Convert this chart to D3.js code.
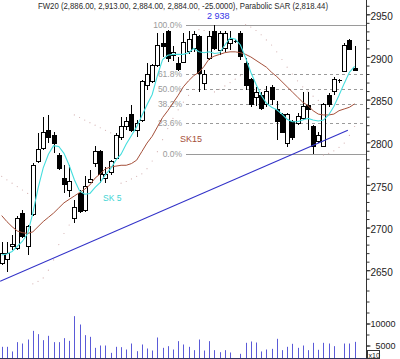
<!DOCTYPE html>
<html><head><meta charset="utf-8">
<script src="https://cdn.jsdelivr.net/npm/d3@7"></script>
<style>body{margin:0;background:#fff}svg{display:block}text{font-family:"Liberation Sans",Arial,sans-serif}</style>
</head><body><svg id="c" width="400" height="359"></svg>
<script>
// ---- data ----
const opens  = [2658,2662,2678,2676,2717,2678,2715,2777,2793,2814,2808,2785,2758,2744,2711,2740,2720,2753,2775,2789,2758,2764,2781,2806,2818,2832,2814,2826,2867,2871,2890,2916,2930,2902,2892,2894,2906,2910,2924,2869,2898,2930,2908,2910,2916,2918,2928,2892,2873,2852,2855,2844,2864,2838,2832,2799,2824,2822,2828,2843,2818,2801,2795,2855,2859,2872,2883,2919,2886];
const highs  = [2683,2683,2691,2713,2720,2703,2776,2811,2830,2832,2812,2787,2773,2773,2732,2744,2760,2767,2796,2791,2771,2779,2811,2830,2830,2844,2826,2873,2893,2892,2928,2928,2932,2913,2900,2928,2931,2931,2926,2885,2930,2938,2931,2930,2931,2920,2930,2899,2875,2865,2859,2866,2867,2848,2834,2834,2826,2834,2859,2859,2820,2812,2846,2858,2877,2874,2916,2921,2913];
const lows   = [2656,2648,2674,2674,2688,2668,2713,2776,2791,2799,2787,2767,2740,2736,2705,2717,2718,2752,2771,2752,2752,2762,2779,2803,2814,2812,2806,2824,2861,2869,2888,2900,2894,2895,2883,2893,2904,2906,2859,2861,2896,2908,2902,2906,2908,2916,2896,2861,2841,2842,2838,2841,2844,2803,2811,2795,2803,2820,2826,2814,2786,2799,2794,2841,2855,2870,2883,2908,2884];
const closes = [2670,2670,2680,2711,2689,2701,2773,2792,2812,2805,2799,2769,2750,2754,2723,2719,2748,2756,2789,2762,2762,2777,2808,2818,2824,2814,2822,2871,2879,2890,2914,2912,2898,2905,2885,2917,2920,2926,2881,2879,2924,2910,2928,2928,2921,2918,2900,2867,2844,2858,2840,2859,2850,2824,2812,2832,2805,2830,2842,2838,2795,2808,2844,2844,2873,2872,2914,2909,2884];
const volumes= [4700,4700,3640,5760,5450,6360,8330,7580,6210,7200,5760,5760,6670,6060,11670,9770,7350,6970,4470,5000,5000,3330,4700,4620,4090,5450,3710,5230,4320,3860,6820,4470,4850,4090,5990,5230,4700,3940,6360,3860,5990,3940,3480,3940,3410,2000,3110,5610,5910,5680,3640,4090,4240,6520,3940,4700,5380,4470,5000,3940,5610,4020,5610,5450,4850,2000,5450,5450,5830];
const sk5    = [2668,2669,2672,2678,2684,2693,2717,2746,2770,2786,2796,2795,2787,2773,2756,2743,2739,2740,2747,2753,2762,2769,2779,2786,2798,2808,2818,2831,2844,2856,2878,2897,2902,2903,2903,2903,2905,2910,2906,2905,2906,2904,2905,2914,2922,2921,2914,2899,2882,2868,2855,2846,2841,2838,2833,2827,2824,2824,2826,2828,2826,2825,2826,2832,2842,2855,2869,2882,2889];
const sk15   = [2714,2707,2701,2696,2694,2693,2695,2701,2707,2712,2717,2723,2729,2733,2737,2741,2745,2750,2758,2763,2769,2771,2772,2773,2773,2775,2779,2789,2799,2807,2818,2829,2837,2846,2855,2865,2872,2878,2882,2889,2898,2901,2903,2905,2906,2906,2905,2903,2900,2896,2892,2888,2882,2877,2871,2865,2859,2853,2847,2843,2837,2833,2832,2832,2833,2837,2839,2841,2845];
const sar    = [2760,2756,2752,2748,2744,2740,2634,2637,2641,2650,2662,2680,2693,2703,2832,2829,2826,2823,2820,2817,2814,2811,2808,2752,2754,2757,2760,2763,2769,2778,2789,2803,2816,2828,2838,2847,2855,2862,2932,2931,2930,2859,2862,2866,2870,2874,2878,2938,2935,2931,2926,2920,2914,2906,2897,2888,2880,2872,2865,2860,2854,2849,2785,2787,2790,2794,2799,2808,2818.44];
const priceTicks = [2650,2700,2750,2800,2850,2900,2950];
const volumeTicks = [5000,10000];
const fibLevels = [0,0.236,0.382,0.5,0.618,1];
const fibLabels = ["0.0%","23.6%","38.2%","50.0%","61.8%","100.0%"];
const fibHigh = 2938, fibLow = 2786.4;
const trendIdx = [-0.3,66.7], trendPrice = [2637,2814];
const titleText = "FW20 (2,886.00, 2,913.00, 2,884.00, 2,884.00, -25.0000), Parabolic SAR (2,818.44)";
const peakLabel = "2 938";

// ---- drawing ----
const svg = d3.select("#c");
const n = closes.length;
const x = d3.scaleLinear().domain([0, n-1]).range([1.7, 354.6]);
const y = d3.scaleLinear().domain([2650, 2950]).range([270.2, 14.3]);
const yv = d3.scaleLinear().domain([0, 10000]).range([367.5, 323.5]);
const axisX = 366;
const px = i => Math.round(x(i)) + 0.5;

// title
svg.append("text").attr("x",38).attr("y",9).attr("font-size",8.5).attr("fill","#2a2a2a")
  .attr("textLength",290).attr("lengthAdjust","spacingAndGlyphs").text(titleText);

// fibonacci levels
const fib = svg.append("g");
fibLevels.forEach((lv,k)=>{
  const p = fibLow + (fibHigh-fibLow)*lv;
  const yy = Math.round(y(p))+0.5;
  fib.append("line").attr("x1",186).attr("x2",axisX).attr("y1",yy).attr("y2",yy)
    .attr("stroke","#9a9a9a").attr("stroke-width",1)
    .attr("stroke-dasharray",(lv===0||lv===1)?null:"3,3");
  fib.append("text").attr("x",182).attr("y",yy).attr("dy","0.35em").attr("text-anchor","end")
    .attr("font-size",8.5).attr("fill","#9a9a9a").text(fibLabels[k]);
});
svg.append("text").attr("x",207).attr("y",19).attr("font-size",9).attr("fill","#3535e8").text(peakLabel);

// volume bars
svg.append("clipPath").attr("id","vc").append("rect").attr("x",0).attr("y",280).attr("width",axisX).attr("height",78);
svg.append("g").attr("clip-path","url(#vc)").selectAll("line").data(volumes).join("line")
  .attr("x1",(d,i)=>px(i)).attr("x2",(d,i)=>px(i))
  .attr("y1",yv(0)).attr("y2",d=>yv(d))
  .attr("stroke","#5a5ad8").attr("stroke-width",1);
svg.append("line").attr("x1",0).attr("x2",axisX).attr("y1",358.5).attr("y2",358.5).attr("stroke","#33335a");

// parabolic SAR dots
svg.append("g").selectAll("circle").data(sar).join("circle")
  .attr("cx",(d,i)=>x(i)).attr("cy",d=>y(d)).attr("r",0.6).attr("fill","#d4b2b2");

// candles
const cg = svg.append("g").attr("shape-rendering","crispEdges");
d3.range(n).forEach(i=>{
  const cx = px(i);
  cg.append("line").attr("x1",cx).attr("x2",cx).attr("y1",y(highs[i])).attr("y2",y(lows[i]))
    .attr("stroke","#000");
  const top = y(Math.max(opens[i],closes[i])), bot = y(Math.min(opens[i],closes[i]));
  if (Math.abs(bot-top) < 1) {
    cg.append("line").attr("x1",cx-2).attr("x2",cx+2).attr("y1",top).attr("y2",top).attr("stroke","#000");
  } else {
    cg.append("rect").attr("x",cx-2).attr("y",top).attr("width",4).attr("height",bot-top)
      .attr("fill", closes[i]>=opens[i] ? "#fff" : "#000").attr("stroke","#000");
  }
});

// moving averages
const line = d3.line().x((d,i)=>x(i)).y(d=>y(d));
svg.append("path").datum(sk15).attr("d",line).attr("fill","none").attr("stroke","#a5503a").attr("stroke-width",1);
svg.append("path").datum(sk5).attr("d",line).attr("fill","none").attr("stroke","#45dede").attr("stroke-width",1.1);

// trend line
svg.append("line").attr("x1",x(trendIdx[0])).attr("x2",x(trendIdx[1]))
  .attr("y1",y(trendPrice[0])).attr("y2",y(trendPrice[1])).attr("stroke","#3232c8").attr("stroke-width",1.1);

svg.append("text").attr("x",103).attr("y",201).attr("font-size",8.5).attr("fill","#40d4d4").text("SK 5");
svg.append("text").attr("x",180).attr("y",142).attr("font-size",9).attr("fill","#a5503a").text("SK15");

// right axes
svg.append("line").attr("x1",axisX+0.5).attr("x2",axisX+0.5).attr("y1",0).attr("y2",359).attr("stroke","#333");
const minorP = svg.append("g").attr("transform",`translate(${axisX+0.5},0)`)
  .call(d3.axisRight(y).tickValues(d3.range(2640,2961,10)).tickSize(3).tickFormat(""));
const majorP = svg.append("g").attr("transform",`translate(${axisX+0.5},0)`)
  .call(d3.axisRight(y).tickValues(priceTicks).tickSize(4).tickPadding(0).tickFormat(d3.format("d")));
const minorV = svg.append("g").attr("transform",`translate(${axisX+0.5},0)`)
  .call(d3.axisRight(yv).tickValues(d3.range(2500,17501,2500)).tickSize(3).tickFormat(""));
const majorV = svg.append("g").attr("transform",`translate(${axisX+0.5},0)`)
  .call(d3.axisRight(yv).tickValues(volumeTicks).tickSize(4).tickPadding(0).tickFormat(d3.format("d")));
[minorP,majorP,minorV,majorV].forEach(g=>{
  g.select(".domain").remove();
  g.selectAll(".tick line").attr("stroke","#333");
  g.selectAll("text").attr("fill","#222").attr("font-family",'"Liberation Sans",Arial,sans-serif');
});
majorP.selectAll("text").attr("font-size",10).attr("x",4).attr("transform","translate(0,2)");
majorV.selectAll("text").attr("font-size",9).attr("text-anchor","end").attr("x",29);

// x10 box
svg.append("rect").attr("x",367.5).attr("y",350.5).attr("width",12).attr("height",8).attr("fill","#fff").attr("stroke","#333");
svg.append("text").attr("x",368.5).attr("y",357.5).attr("font-size",7).attr("fill","#222").text("x10");
</script></body></html>
